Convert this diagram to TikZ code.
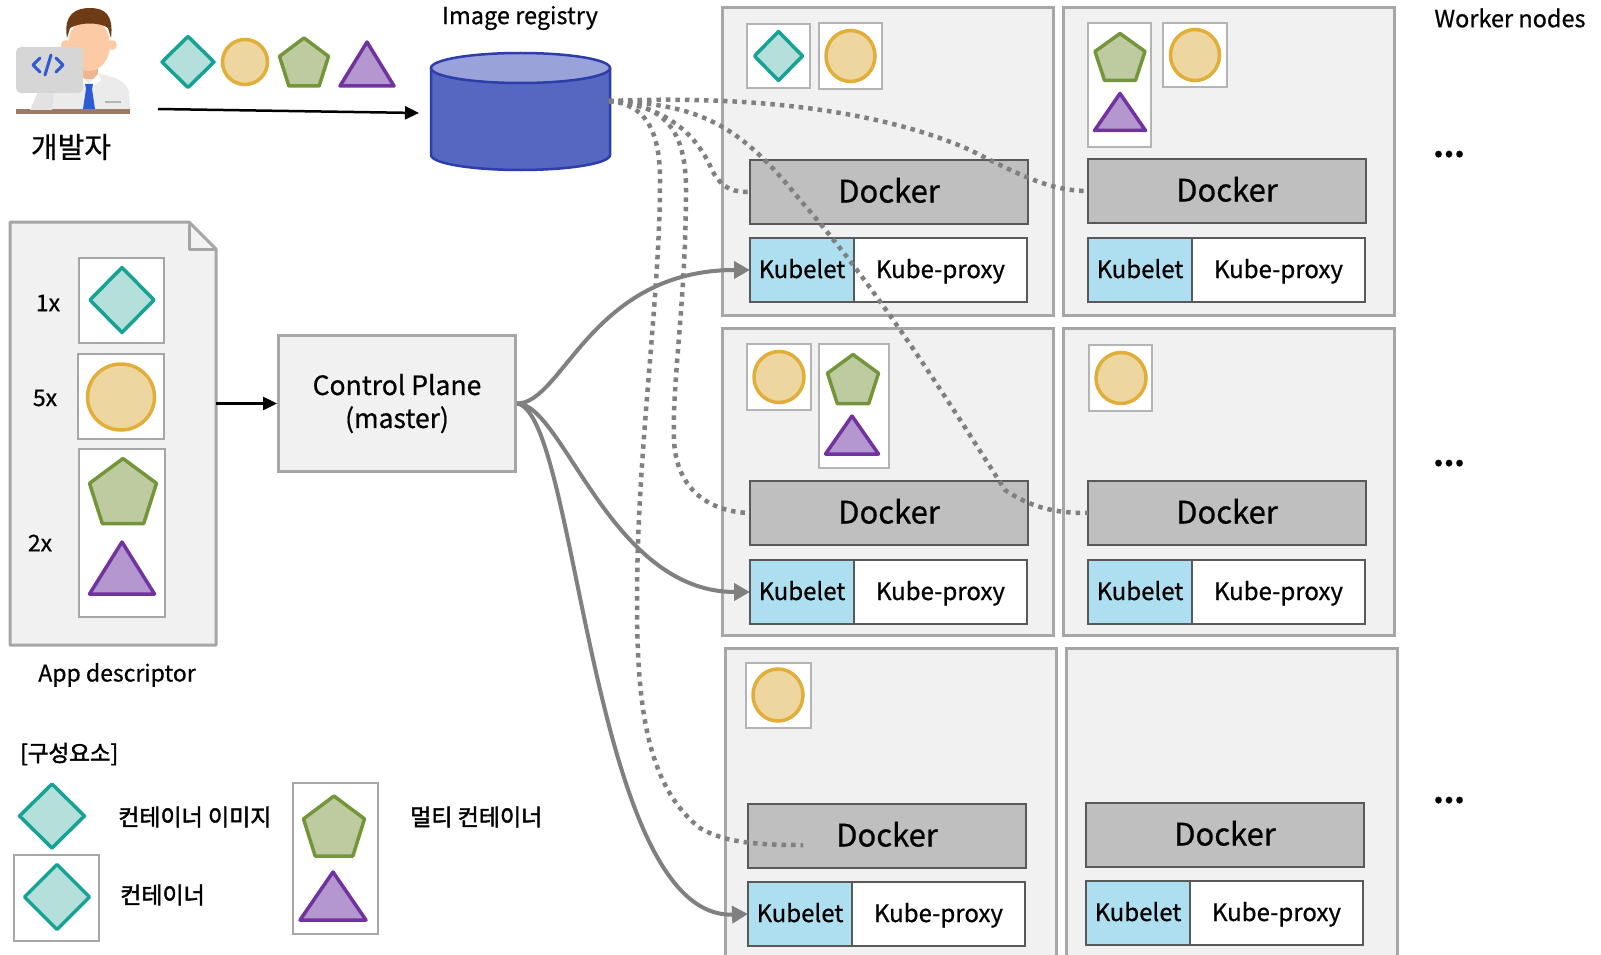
\documentclass[tikz,border=0pt]{standalone}
\usepackage{fontspec}
\setmainfont{Noto Sans CJK KR}[FakeBold=0.6]
\newfontfamily\krbold{Noto Sans CJK KR}[FakeBold=2]
\usetikzlibrary{arrows.meta}

% palette
\definecolor{boxfill}{HTML}{F1F1F1}
\definecolor{boxline}{HTML}{A6A6A6}
\definecolor{cline}{HTML}{B4B4B4}
\definecolor{dockfill}{HTML}{BFBFBF}
\definecolor{dockline}{HTML}{595959}
\definecolor{kubefill}{HTML}{ADDFF0}
\definecolor{linkgray}{HTML}{808080}
\definecolor{regbody}{HTML}{5567C0}
\definecolor{regtop}{HTML}{99A3D9}
\definecolor{regline}{HTML}{2D3DAA}
\definecolor{gemline}{HTML}{16A294}
\definecolor{gemfill}{HTML}{B5DFDB}
\definecolor{coinline}{HTML}{E1AE3A}
\definecolor{coinfill}{HTML}{EDD6A0}
\definecolor{pentline}{HTML}{74963A}
\definecolor{pentfill}{HTML}{BECBA0}
\definecolor{triline}{HTML}{7133A0}
\definecolor{trifill}{HTML}{B497CE}
\definecolor{deskc}{HTML}{9C7A66}
\definecolor{shirtc}{HTML}{EBEBEB}
\definecolor{facec}{HTML}{FCCBA6}
\definecolor{neckc}{HTML}{F0B690}
\definecolor{hairc}{HTML}{6E3B17}
\definecolor{tiec}{HTML}{2E5BD3}
\definecolor{monc}{HTML}{D6D6D6}
\definecolor{standc}{HTML}{E2E2E2}

\newcommand\fsz[2]{\fontsize{#1}{#2}\selectfont}

\tikzset{
  wbox/.style={draw=boxline, fill=boxfill, line width=3pt, minimum width=331pt,
    minimum height=307pt, anchor=north west, inner sep=0pt, outer sep=0pt},
  dockerbox/.style={draw=dockline, fill=dockfill, line width=2.5pt, minimum width=278pt,
    minimum height=64pt, anchor=north west, inner sep=0pt, outer sep=0pt,
    text height=21pt, text depth=0pt, font=\fsz{31}{36}},
  kubeletbox/.style={draw=dockline, fill=kubefill, line width=2.5pt, minimum width=104pt,
    minimum height=64pt, anchor=north west, inner sep=0pt, outer sep=0pt,
    text height=16pt, text depth=0pt, font=\fsz{24}{29}},
  proxybox/.style={kubeletbox, fill=white, minimum width=173pt},
  cbox/.style={draw=cline, fill=white, line width=2pt, anchor=north west,
    inner sep=0pt, outer sep=0pt},
  label/.style={inner sep=0pt, font=\fsz{23.5}{28}},
  legend/.style={inner sep=0pt, anchor=west, font=\krbold\fsz{23}{27}},
  gemsty/.style={draw=gemline, fill=gemfill, line width=3.5pt, line join=round},
  coinsty/.style={draw=coinline, fill=coinfill, line width=3.5pt},
  pentsty/.style={draw=pentline, fill=pentfill, line width=3.5pt, line join=round},
  tristy/.style={draw=triline, fill=trifill, line width=3.5pt, line join=round},
  blackarrow/.style={line width=2.5pt, -{Triangle[length=14pt,width=13pt]}},
  grayarrow/.style={draw=linkgray, line width=4pt,
    -{Triangle[length=16pt,width=17pt]}},
  pullline/.style={draw=linkgray, line width=4.5pt, dash pattern=on 4.5pt off 5pt},
}

% icons: centre x, centre y, width, height
\newcommand\shpDiamond[4]{\filldraw[gemsty] ({#1-#3/2},#2) -- (#1,{#2-#4/2})
  -- ({#1+#3/2},#2) -- (#1,{#2+#4/2}) -- cycle;}
\newcommand\shpCoin[4]{\filldraw[coinsty] (#1,#2) ellipse [x radius={#3/2*1pt}, y radius={#4/2*1pt}];}
\newcommand\shpPent[4]{\filldraw[pentsty] (#1,{#2-#4/2}) -- ({#1+#3/2},{#2-0.236*#4/2})
  -- ({#1+0.618*#3/2},{#2+#4/2}) -- ({#1-0.618*#3/2},{#2+#4/2})
  -- ({#1-#3/2},{#2-0.236*#4/2}) -- cycle;}
\newcommand\shpTri[4]{\filldraw[tristy] (#1,{#2-#4/2}) -- ({#1+#3/2},{#2+#4/2})
  -- ({#1-#3/2},{#2+#4/2}) -- cycle;}

% worker node: name, x, y, docker dx, docker dy, kubelet dy, box height
\newcommand\workernode[7]{%
  \node[wbox, minimum height=#7pt] (#1) at (#2,#3) {};
  \node[dockerbox] (#1d) at ({#2+#4},{#3+#5}) {Docker};
  \node[kubeletbox] (#1k) at ({#2+#4},{#3+#6}) {Kubelet};
  \node[proxybox] (#1p) at (#1k.north east) {Kube-proxy};
}

\begin{document}
\begin{tikzpicture}[x=1pt, y=-1pt]
\useasboundingbox (0,0) rectangle (1601,955);
\fill[white] (0,0) rectangle (1601,955);

% ---------- developer ----------
\fill[deskc] (16,109) rectangle (130,114);
\fill[shirtc] (52,109) -- (54,88) .. controls (56,80) and (62,77) .. (70,76) -- (82,73)
  -- (97,73) -- (112,77) .. controls (122,80) and (128,86) .. (129,92) -- (130,109) -- cycle;
\fill[neckc] (80,60) rectangle (98,79);
\fill[white] (80,74) -- (89,84) -- (98,74) -- (101,80) -- (89,89) -- (77,80) -- cycle;
\fill[tiec] (85,84) -- (93,84) -- (92,89) -- (95,109) -- (83,109) -- (86,89) -- cycle;
\draw[cline, line width=2pt] (105,102) -- (121,102);
\fill[facec] (66,45) circle[radius=5pt];
\fill[facec] (112,45) circle[radius=5pt];
\fill[facec] (89,45) ellipse[x radius=21pt, y radius=26pt];
\fill[hairc] (67,38) .. controls (63,13) and (77,8) .. (90,8) .. controls (104,8) and (114,14) .. (111,38)
  -- (108,28) .. controls (100,22) and (80,22) .. (70,28) -- cycle;
\fill[standc] (38,92) -- (54,92) -- (52,110) -- (30,110) -- cycle;
\fill[monc, rounded corners=5pt] (16,47) rectangle (83,93);
\draw[tiec, line width=3pt, line cap=round, line join=round]
  (40,58) -- (33,65) -- (40,72)  (45,75) -- (51,55)  (56,58) -- (63,65) -- (56,72);
\node[label, font=\fsz{29}{33}] (dev) at (71,147) {개발자};

% images handed over by the developer
\shpDiamond{188}{62}{52}{51}
\shpCoin{245}{62}{45}{45}
\shpPent{304}{62}{49}{48}
\shpTri{367}{64}{54}{44}
\coordinate (devout) at (158,109);
\coordinate (regin) at (419,113);
\draw[blackarrow] (devout) -- (regin);

% ---------- image registry ----------
\filldraw[fill=regbody, draw=regline, line width=2.5pt] (431,68) -- (431,155)
  arc[start angle=180, end angle=360, x radius=89.5pt, y radius=15pt] -- (610,68);
\filldraw[fill=regtop, draw=regline, line width=2.5pt] (520.5,68) ellipse[x radius=89.5pt, y radius=15pt];
\coordinate (regout) at (609,101);
\node[label] (regl) at (520,18) {Image registry};

% ---------- app descriptor ----------
\node[minimum width=206pt, minimum height=423pt, anchor=north west, inner sep=0pt] (desc) at (10,222) {};
\filldraw[fill=boxfill, draw=boxline, line width=3pt, line join=round]
  (10,222) -- (189,222) -- (216,249) -- (216,645) -- (10,645) -- cycle;
\draw[boxline, line width=3pt, line join=round] (189,222) -- (189,249) -- (216,249);
\node[cbox, draw=boxline, minimum width=85pt, minimum height=85pt] (dc1) at (79,258) {};
\node[cbox, draw=boxline, minimum width=86pt, minimum height=85pt] (dc2) at (78,354) {};
\node[cbox, draw=boxline, minimum width=86pt, minimum height=168pt] (dc3) at (79,449) {};
\shpDiamond{122}{300}{64}{65}
\shpCoin{121}{397}{67}{66}
\shpPent{123}{491}{67}{65}
\shpTri{122}{568}{65}{52}
\node[label, font=\fsz{23}{27}] (n1) at (48,303) {1x};
\node[label, font=\fsz{23}{27}] (n5) at (45,398) {5x};
\node[label, font=\fsz{23}{27}] (n2) at (40,543) {2x};
\node[label, font=\fsz{23}{27}] (descl) at (117,675) {App descriptor};

% ---------- control plane ----------
\node[draw=boxline, fill=boxfill, line width=3pt, minimum width=237pt, minimum height=136pt,
  anchor=north west, align=center, inner sep=0pt, font=\fsz{26.5}{33}] (cp) at (277,334)
  {Control Plane\\(master)};
\draw[blackarrow] (desc.east |- cp.west) -- (cp.west);

% ---------- worker nodes ----------
\workernode{a1}{722}{8}{28}{152}{230}{307}
\workernode{b1}{1063}{8}{25}{151}{230}{307}
\workernode{a2}{722}{328}{28}{153}{232}{307}
\workernode{b2}{1063}{328}{25}{153}{232}{307}
\workernode{a3}{725}{648}{23}{156}{234}{316}
\workernode{b3}{1066}{648}{20}{155}{233}{316}

% containers running on each node
\node[cbox, minimum width=63pt, minimum height=64pt] (a1c1) at (747,24) {};
\node[cbox, minimum width=63pt, minimum height=66pt] (a1c2) at (819,23) {};
\shpDiamond{778.5}{56}{48}{49}
\shpCoin{850.5}{56}{49}{51}
\node[cbox, minimum width=63pt, minimum height=124pt] (b1c1) at (1088,23) {};
\node[cbox, minimum width=64pt, minimum height=64pt] (b1c2) at (1163,23) {};
\shpPent{1120}{57}{50}{47}
\shpTri{1120}{112}{51}{37}
\shpCoin{1195}{55}{49}{51}
\node[cbox, minimum width=64pt, minimum height=66pt] (a2c1) at (747,344) {};
\node[cbox, minimum width=70pt, minimum height=124pt] (a2c2) at (819,344) {};
\shpCoin{779}{377}{50}{51}
\shpPent{853}{379}{51}{49}
\shpTri{852}{435}{53}{38}
\node[cbox, minimum width=63pt, minimum height=66pt] (b2c1) at (1089,345) {};
\shpCoin{1121}{378}{50}{51}
\node[cbox, minimum width=65pt, minimum height=65pt] (a3c1) at (746,663) {};
\shpCoin{778}{695}{50}{52}

\node[label] (wnl) at (1510,18) {Worker nodes};
\node[inner sep=0pt, anchor=base, font=\bfseries\fsz{30}{34}] (more1) at (1449,157) {...};
\node[inner sep=0pt, anchor=base, font=\bfseries\fsz{30}{34}] (more2) at (1449,466) {...};
\node[inner sep=0pt, anchor=base, font=\bfseries\fsz{30}{34}] (more3) at (1449,803) {...};

% ---------- scheduling: control plane to kubelets ----------
\draw[grayarrow] (cp.east) .. controls +(46,0) and +(-159,0) .. (a1k.west);
\draw[grayarrow] (cp.east) .. controls +(46,0) and +(-140,0) .. (a2k.west);
\draw[grayarrow] (cp.east) .. controls +(61,9) and +(-158,6) .. (a3k.west);

% ---------- image pulls: registry to docker ----------
\coordinate (a3pull) at (803,845);
\draw[pullline] (regout) .. controls (750,95) and (880,110) .. (970,150)
  .. controls (1020,175) and (1050,191) .. (b1d.west);
\draw[pullline] (regout) .. controls (660,105) and (695,130) .. (712,170)
  .. controls (722,190) and (735,192) .. (a1d.west);
\draw[pullline] (regout) .. controls (700,104) and (740,125) .. (800,200)
  .. controls (880,290) and (960,420) .. (1005,490)
  .. controls (1035,510) and (1060,513) .. (b2d.west);
\draw[pullline] (regout) .. controls (665,104) and (686,130) .. (686,190)
  .. controls (686,300) and (672,380) .. (674,440)
  .. controls (676,490) and (710,512) .. (a2d.west);
\draw[pullline] (regout) .. controls (645,104) and (660,130) .. (660,180)
  .. controls (660,300) and (637,450) .. (637,600)
  .. controls (637,700) and (645,785) .. (700,828)
  .. controls (725,843) and (760,845) .. (a3pull);

% ---------- legend ----------
\node[legend, font=\krbold\fsz{22.5}{27}] (legt) at (20,754) {[구성요소]};
\shpDiamond{52}{816}{65}{64}
\node[legend] (leg1) at (118,817) {컨테이너 이미지};
\node[cbox, draw=boxline, minimum width=85pt, minimum height=86pt] (legc) at (14,855) {};
\shpDiamond{57}{897}{65}{65}
\node[legend] (leg2) at (120,895) {컨테이너};
\node[cbox, draw=boxline, minimum width=85pt, minimum height=151pt] (legm) at (293,783) {};
\shpPent{334}{826}{61}{60}
\shpTri{333}{896}{66}{48}
\node[legend] (leg3) at (410,817) {멀티 컨테이너};
\end{tikzpicture}
\end{document}
